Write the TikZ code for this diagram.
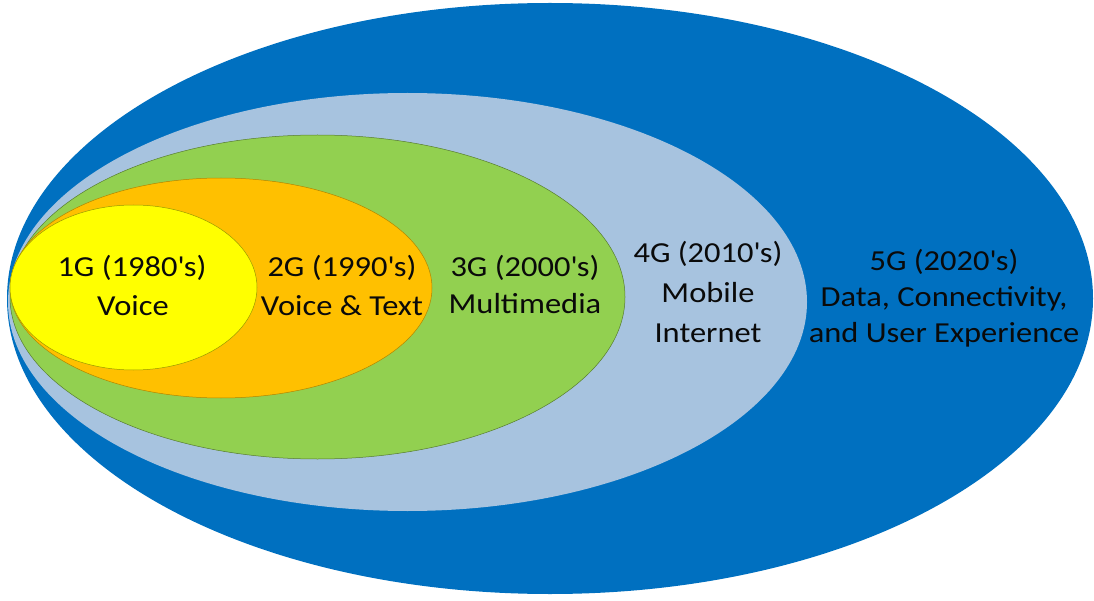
\documentclass[tikz,border=0pt]{standalone}
\usepackage{fontspec}
\setmainfont{Carlito}[FakeStretch=1.12]
\definecolor{c5}{HTML}{0070C0}
\definecolor{c4}{HTML}{A7C3DF}
\definecolor{c3}{HTML}{92D050}
\definecolor{c2}{HTML}{FFC000}
\definecolor{c1}{HTML}{FFFF00}
\definecolor{txt}{HTML}{0A0A0A}
\newcommand{\sq}{\textquotesingle}
\begin{document}
\begin{tikzpicture}[x=1bp,y=-1bp,
  ring/.style={line width=0.5bp},
  lbl/.style={anchor=base,inner sep=0pt,text=txt,font=\fontsize{29bp}{34bp}\selectfont}]
\useasboundingbox (0,0) rectangle (1094,601);
\fill[c5] (550,298.5) ellipse [x radius=543, y radius=295.5];
\fill[c4] (407.5,302) ellipse [x radius=399.5, y radius=209];
\filldraw[ring,fill=c3,draw=c3!60!black] (317.5,297) ellipse [x radius=307.5, y radius=162];
\filldraw[ring,fill=c2,draw=c2!70!black] (221,288) ellipse [x radius=211, y radius=110];
\filldraw[ring,fill=c1,draw=c1!60!black] (133.5,287.5) ellipse [x radius=123.5, y radius=82.5];
\node[lbl] (g1a) at (132,277) {1G (1980\sq s)};
\node[lbl] (g1b) at (133,316) {Voice};
\node[lbl] (g2a) at (342,277) {2G (1990\sq s)};
\node[lbl] (g2b) at (342,316) {Voice \& Text};
\node[lbl] (g3a) at (525,277) {3G (2000\sq s)};
\node[lbl] (g3b) at (525,314) {Multimedia};
\node[lbl] (g4a) at (708,263) {4G (2010\sq s)};
\node[lbl] (g4b) at (708,303) {Mobile};
\node[lbl] (g4c) at (708,342) {Internet};
\node[lbl] (g5a) at (944,271) {5G (2020\sq s)};
\node[lbl] (g5b) at (944,307) {Data, Connectivity,};
\node[lbl] (g5c) at (944,342) {and User Experience};
\end{tikzpicture}
\end{document}
